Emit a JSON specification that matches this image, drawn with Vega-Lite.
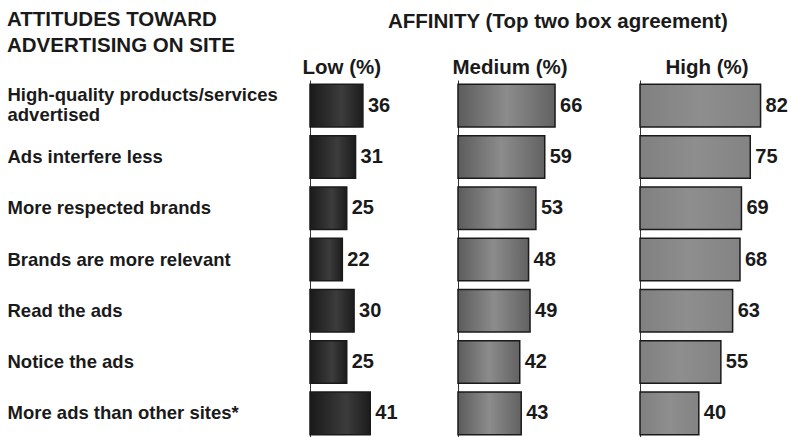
{
  "$schema": "https://vega.github.io/schema/vega-lite/v6.json",
  "background": "white",
  "padding": {"left": 7, "top": 9, "right": 0, "bottom": 0},
  "bounds": "flush",
  "config": {
    "view": {"stroke": null},
    "font": "Liberation Sans",
    "title": {"font": "Liberation Sans", "fontWeight": "bold", "color": "#1a1a1a"},
    "axis": {"labelFont": "Liberation Sans", "titleFont": "Liberation Sans"}
  },
  "data": {
    "values": [
      {"attitude": "High-quality products/services|advertised", "level": "Low", "value": 36},
      {"attitude": "Ads interfere less", "level": "Low", "value": 31},
      {"attitude": "More respected brands", "level": "Low", "value": 25},
      {"attitude": "Brands are more relevant", "level": "Low", "value": 22},
      {"attitude": "Read the ads", "level": "Low", "value": 30},
      {"attitude": "Notice the ads", "level": "Low", "value": 25},
      {"attitude": "More ads than other sites*", "level": "Low", "value": 41},
      {"attitude": "High-quality products/services|advertised", "level": "Medium", "value": 66},
      {"attitude": "Ads interfere less", "level": "Medium", "value": 59},
      {"attitude": "More respected brands", "level": "Medium", "value": 53},
      {"attitude": "Brands are more relevant", "level": "Medium", "value": 48},
      {"attitude": "Read the ads", "level": "Medium", "value": 49},
      {"attitude": "Notice the ads", "level": "Medium", "value": 42},
      {"attitude": "More ads than other sites*", "level": "Medium", "value": 43},
      {"attitude": "High-quality products/services|advertised", "level": "High", "value": 82},
      {"attitude": "Ads interfere less", "level": "High", "value": 75},
      {"attitude": "More respected brands", "level": "High", "value": 69},
      {"attitude": "Brands are more relevant", "level": "High", "value": 68},
      {"attitude": "Read the ads", "level": "High", "value": 63},
      {"attitude": "Notice the ads", "level": "High", "value": 55},
      {"attitude": "More ads than other sites*", "level": "High", "value": 40}
    ]
  },
  "spacing": 0,
  "hconcat": [
    {
      "width": 148,
      "height": 359,
      "title": {"text": ["ATTITUDES TOWARD", "ADVERTISING ON SITE"], "anchor": "start", "frame": "group", "dx": -303, "fontSize": 20.5, "lineHeight": 26, "offset": 1},
      "transform": [{"filter": "datum.level === 'Low'"}],
      "encoding": {
        "y": {
          "field": "attitude", "type": "nominal", "sort": null,
          "scale": {"paddingInner": 0.17, "paddingOuter": 0.085},
          "axis": {
            "title": null, "ticks": false, "domainColor": "#333", "domainWidth": 1,
            "labelAlign": "left", "labelPadding": 303, "labelFontSize": 18.5, "labelFontWeight": "bold",
            "labelColor": "#1a1a1a", "labelLimit": 320, "labelLineHeight": 20,
            "labelOffset": {"condition": {"test": "indexof(datum.value, '|') >= 0", "value": -11}, "value": 0},
            "labelExpr": "split(datum.label, '|')"
          }
        },
        "x": {
          "field": "value", "type": "quantitative",
          "scale": {"domain": [0, 100.7], "nice": false},
          "axis": {"orient": "top", "grid": false, "domain": false, "ticks": false, "labels": false,
                   "title": "Low (%)", "titleAnchor": "start", "titleAlign": "left", "titleX": -8, "titleY": -7,
                   "titleBaseline": "alphabetic", "titleFontSize": 20.5, "titleFontWeight": "bold", "titleColor": "#1a1a1a"}
        }
      },
      "layer": [
        {"mark": {"type": "bar", "stroke": "#1a1a1a", "strokeWidth": 1.5,
          "color": {"gradient": "linear", "x1": 0, "x2": 1, "y1": 0, "y2": 0,
            "stops": [{"offset": 0, "color": "#1a1a1a"}, {"offset": 0.6, "color": "#3c3c3c"}, {"offset": 1, "color": "#1c1c1c"}]}}},
        {"mark": {"type": "text", "align": "left", "baseline": "middle", "dx": 5, "fontSize": 20, "fontWeight": "bold", "color": "#1a1a1a"},
         "encoding": {"text": {"field": "value", "type": "quantitative"}}}
      ]
    },
    {
      "width": 182,
      "height": 359,
      "title": {"text": "AFFINITY (Top two box agreement)", "anchor": "start", "frame": "group", "dx": -70, "dy": -24, "fontSize": 20.5, "offset": 1},
      "transform": [{"filter": "datum.level === 'Medium'"}],
      "encoding": {
        "y": {
          "field": "attitude", "type": "nominal", "sort": null,
          "scale": {"paddingInner": 0.17, "paddingOuter": 0.085},
          "axis": {"title": null, "ticks": false, "labels": false, "domainColor": "#333", "domainWidth": 1}
        },
        "x": {
          "field": "value", "type": "quantitative",
          "scale": {"domain": [0, 123.8], "nice": false},
          "axis": {"orient": "top", "grid": false, "domain": false, "ticks": false, "labels": false,
                   "title": "Medium (%)", "titleAnchor": "start", "titleAlign": "left", "titleX": -6, "titleY": -7,
                   "titleBaseline": "alphabetic", "titleFontSize": 20.5, "titleFontWeight": "bold", "titleColor": "#1a1a1a"}
        }
      },
      "layer": [
        {"mark": {"type": "bar", "stroke": "#1a1a1a", "strokeWidth": 1.5,
          "color": {"gradient": "linear", "x1": 0, "x2": 1, "y1": 0, "y2": 0,
            "stops": [{"offset": 0, "color": "#5c5c5c"}, {"offset": 0.5, "color": "#8c8c8c"}, {"offset": 1, "color": "#626262"}]}}},
        {"mark": {"type": "text", "align": "left", "baseline": "middle", "dx": 5, "fontSize": 20, "fontWeight": "bold", "color": "#1a1a1a"},
         "encoding": {"text": {"field": "value", "type": "quantitative"}}}
      ]
    },
    {
      "width": 146,
      "height": 359,
      "transform": [{"filter": "datum.level === 'High'"}],
      "encoding": {
        "y": {
          "field": "attitude", "type": "nominal", "sort": null,
          "scale": {"paddingInner": 0.17, "paddingOuter": 0.085},
          "axis": {"title": null, "ticks": false, "labels": false, "domainColor": "#333", "domainWidth": 1}
        },
        "x": {
          "field": "value", "type": "quantitative",
          "scale": {"domain": [0, 99.3], "nice": false},
          "axis": {"orient": "top", "grid": false, "domain": false, "ticks": false, "labels": false,
                   "title": "High (%)", "titleAnchor": "start", "titleAlign": "left", "titleX": 25, "titleY": -7,
                   "titleBaseline": "alphabetic", "titleFontSize": 20.5, "titleFontWeight": "bold", "titleColor": "#1a1a1a"}
        }
      },
      "layer": [
        {"mark": {"type": "bar", "stroke": "#1a1a1a", "strokeWidth": 1.5,
          "color": {"gradient": "linear", "x1": 0, "x2": 1, "y1": 0, "y2": 0,
            "stops": [{"offset": 0, "color": "#808080"}, {"offset": 0.5, "color": "#8e8e8e"}, {"offset": 1, "color": "#838383"}]}}},
        {"mark": {"type": "text", "align": "left", "baseline": "middle", "dx": 5, "fontSize": 20, "fontWeight": "bold", "color": "#1a1a1a"},
         "encoding": {"text": {"field": "value", "type": "quantitative"}}}
      ]
    }
  ]
}
